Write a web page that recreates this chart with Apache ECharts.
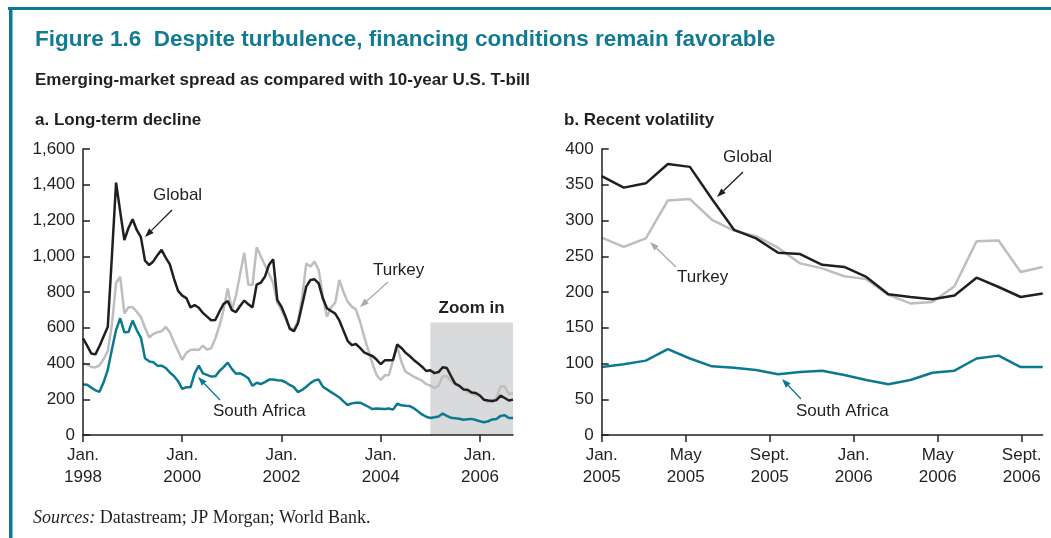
<!DOCTYPE html>
<html>
<head>
<meta charset="utf-8">
<title>Figure 1.6</title>
<script src="https://cdn.jsdelivr.net/npm/echarts@6/dist/echarts.min.js"></script>
<style>
  html, body { margin: 0; padding: 0; background: #fff; }
  #chart { width: 1051px; height: 538px; }
</style>
</head>
<body>
<div id="chart"></div>
<script>
// panel a: monthly spreads (basis points), Jan. 1998 - Dec. 2004
const globalEarly = [
  541, 500, 456, 451, 498, 552, 606, 1005, 1412, 1250,
  1091, 1158, 1207, 1147, 1107, 975, 951, 971, 1006, 1036,
  992, 955, 875, 806, 780, 766, 714, 727, 712, 683,
  662, 642, 643, 691, 733, 750, 699, 688, 722, 752,
  731, 714, 841, 852, 886, 953, 983, 755, 718, 662,
  595, 580, 625, 727, 830, 867, 871, 848, 765, 709,
  694, 679, 641, 584, 527, 503, 509, 487, 462, 451,
  442, 422, 396, 418, 418, 420, 507, 487, 461, 442,
  420, 401, 382, 358
];
const turkeyEarly = [
  400, 395, 380, 378, 390, 425, 470, 620, 850, 885,
  680, 715, 715, 690, 660, 600, 545, 565, 575, 580,
  605, 575, 520, 470, 420, 460, 476, 478, 476, 500,
  478, 485, 540, 610, 700, 820, 700, 780, 900, 1020,
  840, 840, 1050, 1000, 950, 900, 850, 740, 700, 650,
  600, 590, 640, 770, 960, 942, 970, 923, 775, 662,
  714, 740, 867, 800, 746, 718, 703, 635, 550, 475,
  400, 336, 308, 334, 336, 420, 494, 410, 354, 341,
  326, 315, 304, 285
];
const southAfricaEarly = [
  283, 281, 265, 250, 242, 296, 365, 480, 587, 653,
  575, 576, 640, 587, 545, 429, 412, 407, 388, 388,
  375, 350, 330, 301, 258, 267, 267, 345, 388, 345,
  336, 327, 328, 358, 380, 405, 370, 343, 345, 333,
  317, 275, 292, 285, 296, 310, 310, 306, 305, 295,
  280, 268, 240, 252, 270, 290, 305, 310, 270, 255,
  240, 225, 210, 188, 168, 177, 181, 181, 170, 158,
  145, 148, 147, 145, 148, 142, 175, 166, 163, 162,
  150, 133, 115, 102
];

// panel b: Jan. 2005 - Sept. 2006 (also the tail of panel a)
const globalRecent = [362, 346, 352, 379, 375, 330, 287, 275, 255, 253, 238, 235, 221, 197, 193, 190, 195, 220, 207, 193, 198];
const turkeyRecent = [276, 263, 275, 328, 330, 301, 286, 278, 262, 240, 233, 222, 218, 196, 184, 186, 208, 271, 272, 228, 235];
const southAfricaRecent = [95, 99, 104, 120, 107, 96, 94, 91, 85, 88, 90, 84, 77, 71, 77, 87, 90, 107, 111, 95, 95];

const yearTicks = ["1998", "2000", "2002", "2004", "2006"];
const recentTicks = ["Jan.\n2005", "May\n2005", "Sept.\n2005", "Jan.\n2006", "May\n2006", "Sept.\n2006"];
const recentTickPos = [0, 4, 8, 12, 16, 20];
const zoomTop = 630;

const globalLong = globalEarly.concat(globalRecent);
const turkeyLong = turkeyEarly.concat(turkeyRecent);
const southAfricaLong = southAfricaEarly.concat(southAfricaRecent);

function monthNames(startYear, count) {
  const out = [];
  for (let i = 0; i < count; i++) {
    const y = startYear + Math.floor(i / 12);
    const m = (i % 12) + 1;
    out.push(y + "-" + (m < 10 ? "0" + m : m));
  }
  return out;
}
const longMonths = monthNames(1998, globalLong.length);
const recentMonths = monthNames(2005, globalRecent.length);

const ink = "#231f20";
const teal = "#0b7a90";
const grey = "#bcbec0";
const frame = "#0d7a94";
const sans = '"Liberation Sans", Arial, sans-serif';

function axisX(extra) {
  return Object.assign({
    z: 5,
    position: "bottom",
    axisLine: { lineStyle: { color: ink, width: 1.5 } },
    axisTick: { length: 7, lineStyle: { color: ink, width: 1.5 } },
    axisLabel: { color: ink, fontSize: 17, lineHeight: 22, margin: 9, fontFamily: sans },
    splitLine: { show: false }
  }, extra);
}
function axisY(gridIndex, max, interval, fmt) {
  return {
    type: "value", gridIndex: gridIndex, min: 0, max: max, interval: interval, z: 5,
    axisLine: { show: true, lineStyle: { color: ink, width: 1.5 } },
    axisTick: { show: true, inside: true, length: 7, lineStyle: { color: ink, width: 1.5 } },
    axisLabel: { color: ink, fontSize: 17, margin: 8, fontFamily: sans, formatter: fmt },
    splitLine: { show: false }
  };
}
function line(name, data, color, xi, yi) {
  return {
    name: name, type: "line", data: data, xAxisIndex: xi, yAxisIndex: yi,
    symbol: "none", lineStyle: { color: color, width: 2.5 }, itemStyle: { color: color },
    emphasis: { disabled: true }
  };
}
function text(str, x, y, extra) {
  return {
    type: "text", x: x, y: y, z: 20,
    style: Object.assign({ text: str, fill: ink, fontSize: 17, fontFamily: sans, verticalAlign: "middle" }, extra)
  };
}
function arrow(x1, y1, x2, y2, color) {
  const a = Math.atan2(y2 - y1, x2 - x1), L = 9, W = 3.2;
  const bx = x2 - L * Math.cos(a), by = y2 - L * Math.sin(a);
  return [
    { type: "line", z: 20, shape: { x1: x1, y1: y1, x2: bx, y2: by }, style: { stroke: color, lineWidth: 1.3 } },
    { type: "polygon", z: 20, shape: { points: [[x2, y2], [bx - W * Math.sin(a), by + W * Math.cos(a)], [bx + W * Math.sin(a), by - W * Math.cos(a)]] }, style: { fill: color } }
  ];
}

const chart = echarts.init(document.getElementById("chart"));
const leftTurkey = line("Turkey", turkeyLong, grey, 0, 0);
leftTurkey.markArea = {
  silent: true,
  itemStyle: { color: "#d9dadb" },
  label: { show: true, position: "top", distance: 6, formatter: "Zoom in", color: ink, fontSize: 17, fontWeight: "bold", fontFamily: sans },
  data: [[{ xAxis: longMonths[globalEarly.length], yAxis: 0 }, { xAxis: longMonths[longMonths.length - 1], yAxis: zoomTop }]]
};

chart.setOption({
  animation: false,
  textStyle: { fontFamily: sans },
  grid: [
    { left: 83, top: 149, width: 430, height: 286 },
    { left: 601.7, top: 149, width: 441, height: 286 }
  ],
  xAxis: [
    axisX({
      gridIndex: 0, type: "category", data: longMonths, boundaryGap: false,
      axisTick: { length: 7, interval: function (i) { return i % 24 === 0; }, lineStyle: { color: ink, width: 1.5 } },
      axisLabel: {
        color: ink, fontSize: 17, lineHeight: 22, margin: 9, fontFamily: sans,
        interval: function (i) { return i % 24 === 0; },
        formatter: function (v, i) { return "Jan.\n" + yearTicks[i / 24]; }
      }
    }),
    // one slot per plotted point of panel b, kept hidden; the month ticks come from the axis below
    { gridIndex: 1, type: "category", data: recentMonths, boundaryGap: false, show: false, position: "top" },
    axisX({
      gridIndex: 1, type: "value", min: 0, max: 21,
      axisTick: { length: 7, customValues: recentTickPos, lineStyle: { color: ink, width: 1.5 } },
      axisLabel: {
        color: ink, fontSize: 17, lineHeight: 22, margin: 9, fontFamily: sans,
        customValues: recentTickPos,
        formatter: function (v) { return recentTicks[recentTickPos.indexOf(v)] || ""; }
      }
    })
  ],
  yAxis: [
    axisY(0, 1600, 200, function (v) { return v.toLocaleString("en-US"); }),
    axisY(1, 400, 50, null)
  ],
  series: [
    leftTurkey,
    line("South Africa", southAfricaLong, teal, 0, 0),
    line("Global", globalLong, ink, 0, 0),
    line("Turkey", turkeyRecent, grey, 1, 1),
    line("South Africa", southAfricaRecent, teal, 1, 1),
    line("Global", globalRecent, ink, 1, 1)
  ],
  graphic: [
    { type: "rect", shape: { x: 8, y: 7, width: 1043, height: 3 }, style: { fill: frame } },
    { type: "rect", shape: { x: 9, y: 7, width: 3.5, height: 531 }, style: { fill: frame } },
    text("Figure 1.6  Despite turbulence, financing conditions remain favorable", 35, 40, { fill: "#127a92", fontSize: 22.5, fontWeight: "bold" }),
    text("Emerging-market spread as compared with 10-year U.S. T-bill", 35, 80, { fontWeight: "bold" }),
    text("a. Long-term decline", 35, 120, { fontWeight: "bold" }),
    text("b. Recent volatility", 564, 120, { fontWeight: "bold" }),
    text("{i|Sources:} Datastream; JP Morgan; World Bank.", 33, 518, {
      fontSize: 18, fontFamily: '"Liberation Serif", serif',
      rich: { i: { fontStyle: "italic", fontSize: 18, fontFamily: '"Liberation Serif", serif', fill: ink } }
    }),
    text("Global", 153, 195),
    text("Turkey", 373, 270),
    text("South Africa", 213, 411),
    text("Global", 723, 157),
    text("Turkey", 677, 277),
    text("South Africa", 796, 411)
  ].concat(
    arrow(172, 210, 145, 237, ink),
    arrow(388, 282, 360, 307, "#a7a9ac"),
    arrow(220, 400, 198, 377, teal),
    arrow(743, 172, 717, 197, ink),
    arrow(676, 267, 650, 242, "#a7a9ac"),
    arrow(801, 399, 782, 379, teal)
  )
});
</script>
</body>
</html>
